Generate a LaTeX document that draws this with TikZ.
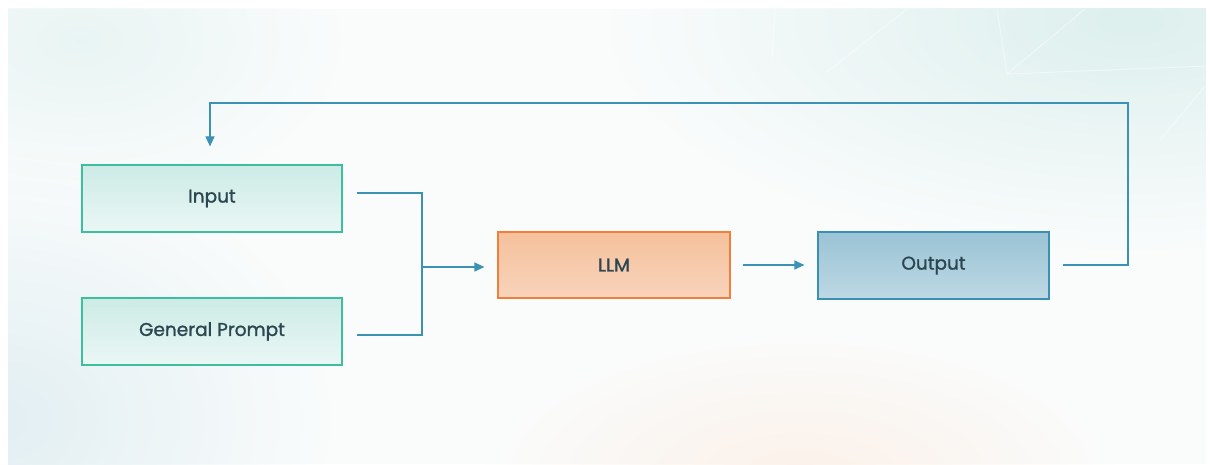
\documentclass[tikz,border=0pt]{standalone}
\usepackage{fontspec}
\setmainfont{Poppins}[FakeBold=1.3]
\usetikzlibrary{arrows.meta,calc,fadings}

\definecolor{bgbase}{HTML}{FAFCFC}
\definecolor{bgteal}{HTML}{DDF0EE}
\definecolor{bgblue}{HTML}{E2EFF3}
\definecolor{bgpeach}{HTML}{FCEEE4}
\definecolor{txt}{HTML}{2B4650}
\definecolor{greenline}{HTML}{3CBF9F}
\definecolor{greentop}{HTML}{CDEBE6}
\definecolor{greenbot}{HTML}{EAF7F5}
\definecolor{orangeline}{HTML}{F07F3C}
\definecolor{orangetop}{HTML}{F5C19C}
\definecolor{orangebot}{HTML}{F8D3BA}
\definecolor{blueline}{HTML}{3A8FB5}
\definecolor{bluetop}{HTML}{9AC3D5}
\definecolor{bluebot}{HTML}{BDD9E4}
\definecolor{linkcol}{HTML}{3B92B4}

% radial fade: opaque centre, transparent rim
\tikzfading[name=softglow, inner color=transparent!0, outer color=transparent!100]

\tikzset{
  box/.style={draw, line width=1.2pt, minimum width=260pt, minimum height=67pt,
    inner sep=0pt, font=\fontsize{18.5}{21}\selectfont, text=txt},
  greenbox/.style={box, draw=greenline, top color=greentop, bottom color=greenbot},
  orangebox/.style={box, draw=orangeline, top color=orangetop, bottom color=orangebot,
    minimum width=232pt, minimum height=66pt},
  bluebox/.style={box, draw=blueline, top color=bluetop, bottom color=bluebot,
    minimum width=231pt},
  link/.style={draw=linkcol, line width=1.2pt},
  arrowlink/.style={link, -{Triangle[length=10pt,width=9pt]}},
  streak/.style={draw=white, line width=1pt, opacity=0.45},
  glow/.style={path fading=softglow}
}

\begin{document}
\begin{tikzpicture}[x=1pt,y=-1pt]
  % page and soft background
  \useasboundingbox (0,0) rectangle (1210,465);
  \fill[white] (0,0) rectangle (1210,465);
  \begin{scope}
    \clip (8,9) rectangle (1206,464);
    \fill[bgbase] (8,9) rectangle (1206,464);
    \fill[bgblue, glow] (0,420) ellipse (330 and 260);
    \fill[bgteal, glow] (1130,20) ellipse (520 and 230);
    \fill[bgteal, glow, opacity=0.6] (80,40) ellipse (260 and 160);
    \fill[bgpeach, glow, opacity=0.8] (800,480) ellipse (320 and 150);
    % faint streaks in the upper right
    \draw[streak] (907,9) -- (827,72);
    \draw[streak] (997,9) -- (1007,74) -- (1085,9);
    \draw[streak] (1007,74) -- (1206,66);
    \draw[streak] (1206,85) -- (1160,140);
    \draw[streak] (775,9) -- (772,60);
  \end{scope}

  % nodes
  \node[greenbox]  (in)  at (212,198.5) {Input};
  \node[greenbox]  (gp)  at (212,331.5) {General Prompt};
  \node[orangebox] (llm) at (614,265)   {LLM};
  \node[bluebox]   (out) at (933.5,265.5) {Output};

  % joins and corners of the connectors
  \coordinate (j)  at (422,267);
  \coordinate (fr) at (1128,103);

  % inputs merge and feed the model
  \draw[link] ($(in.east)+(14,-5.5)$) -| (j);
  \draw[link] ($(gp.east)+(14,3.5)$) -| (j);
  \draw[arrowlink] (j) -- ($(llm.west |- j)+(-13,0)$);

  % model to output
  \draw[arrowlink] ($(llm.east)+(12,0)$) -- ($(out.west)+(-13,-0.5)$);

  % feedback loop back to the input
  \draw[arrowlink] ($(out.east)+(13,-0.5)$) -| (fr) -| ($(in.north)+(-2,-18)$);
\end{tikzpicture}
\end{document}
